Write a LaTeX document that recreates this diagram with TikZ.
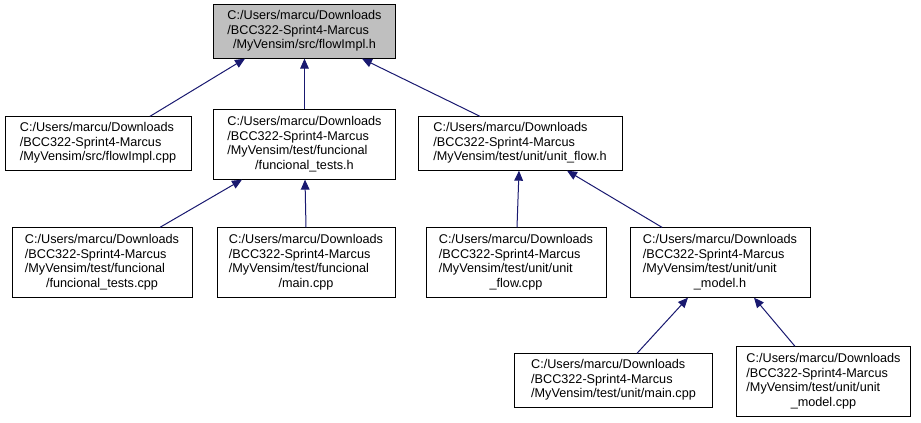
\documentclass[tikz,border=0pt]{standalone}
\usepackage{fontspec}
\setmainfont{Liberation Sans}
\usetikzlibrary{calc, positioning}
\usetikzlibrary{arrows.meta}

\definecolor{depblue}{RGB}{25,25,112}
\definecolor{rootgray}{RGB}{191,191,191}

\newcommand{\lastln}[1]{\multicolumn{1}{@{}c@{}}{#1}}
\newcommand{\flines}[1]{\begin{tabular}{@{}l@{}}#1\end{tabular}}

\tikzset{
  filebox/.style={draw, line width=0.75pt, rectangle, inner sep=0pt,
    font=\fontsize{9.5}{10.9}\selectfont},
  rootbox/.style={filebox, fill=rootgray},
  dep/.style={draw=depblue, line width=0.75pt,
    -{Triangle[length=7.5pt, width=6.5pt, fill=depblue]}},
}

\begin{document}
\begin{tikzpicture}[x=0.75pt, y=-0.75pt]
\useasboundingbox (0,0) rectangle (921,423);

% top level
\node[rootbox, minimum width=137pt, minimum height=40pt] (flowh) at (304.5,31.5)
  {\flines{C:/Users/marcu/Downloads\\/BCC322-Sprint4-Marcus\\\lastln{/MyVensim/src/flowImpl.h}}};

% second row
\node[filebox, minimum width=139.5pt, minimum height=40pt] (flowcpp) at (98,143.5)
  {\flines{C:/Users/marcu/Downloads\\/BCC322-Sprint4-Marcus\\\lastln{/MyVensim/src/flowImpl.cpp}}};
\node[filebox, minimum width=136pt, minimum height=52pt] (functh) at (304.5,144.5)
  {\flines{C:/Users/marcu/Downloads\\/BCC322-Sprint4-Marcus\\/MyVensim/test/funcional\\\lastln{/funcional\_tests.h}}};
\node[filebox, minimum width=153pt, minimum height=40pt] (uflowh) at (520,143.5)
  {\flines{C:/Users/marcu/Downloads\\/BCC322-Sprint4-Marcus\\\lastln{/MyVensim/test/unit/unit\_flow.h}}};

% third row
\node[filebox, minimum width=135pt, minimum height=52pt] (functcpp) at (102,262.5)
  {\flines{C:/Users/marcu/Downloads\\/BCC322-Sprint4-Marcus\\/MyVensim/test/funcional\\\lastln{/funcional\_tests.cpp}}};
\node[filebox, minimum width=133.5pt, minimum height=52pt] (functmain) at (306,262.5)
  {\flines{C:/Users/marcu/Downloads\\/BCC322-Sprint4-Marcus\\/MyVensim/test/funcional\\\lastln{/main.cpp}}};
\node[filebox, minimum width=135pt, minimum height=52pt] (uflowcpp) at (516,262.5)
  {\flines{C:/Users/marcu/Downloads\\/BCC322-Sprint4-Marcus\\/MyVensim/test/unit/unit\\\lastln{\_flow.cpp}}};
\node[filebox, minimum width=135pt, minimum height=52pt] (umodelh) at (720,262.5)
  {\flines{C:/Users/marcu/Downloads\\/BCC322-Sprint4-Marcus\\/MyVensim/test/unit/unit\\\lastln{\_model.h}}};

% bottom row
\node[filebox, minimum width=148pt, minimum height=40pt] (umain) at (613.5,380.5)
  {\flines{C:/Users/marcu/Downloads\\/BCC322-Sprint4-Marcus\\\lastln{/MyVensim/test/unit/main.cpp}}};
\node[filebox, minimum width=131pt, minimum height=52pt] (umodelcpp) at (823.5,381.5)
  {\flines{C:/Users/marcu/Downloads\\/BCC322-Sprint4-Marcus\\/MyVensim/test/unit/unit\\\lastln{\_model.cpp}}};

% include arrows
\draw[dep] ($(flowcpp.north)+(52,0)$) -- ($(flowh.south)+(-59.5,0)$);
\draw[dep] (functh.north) -- (flowh.south);
\draw[dep] ($(uflowh.north)+(-40,0)$) -- ($(flowh.south)+(57.5,0)$);
\draw[dep] ($(functcpp.north)+(58,0)$) -- ($(functh.south)+(-62.5,0)$);
\draw[dep] (functmain.north) -- ($(functh.south)+(0.5,0)$);
\draw[dep] ($(uflowcpp.north)+(1,0)$) -- ($(uflowh.south)+(-1,0)$);
\draw[dep] ($(umodelh.north)+(-58,0)$) -- ($(uflowh.south)+(47,0)$);
\draw[dep] ($(umain.north)+(23.5,0)$) -- ($(umodelh.south)+(-32,0)$);
\draw[dep] ($(umodelcpp.north)+(-28.5,0)$) -- ($(umodelh.south)+(34,0)$);

\end{tikzpicture}
\end{document}
